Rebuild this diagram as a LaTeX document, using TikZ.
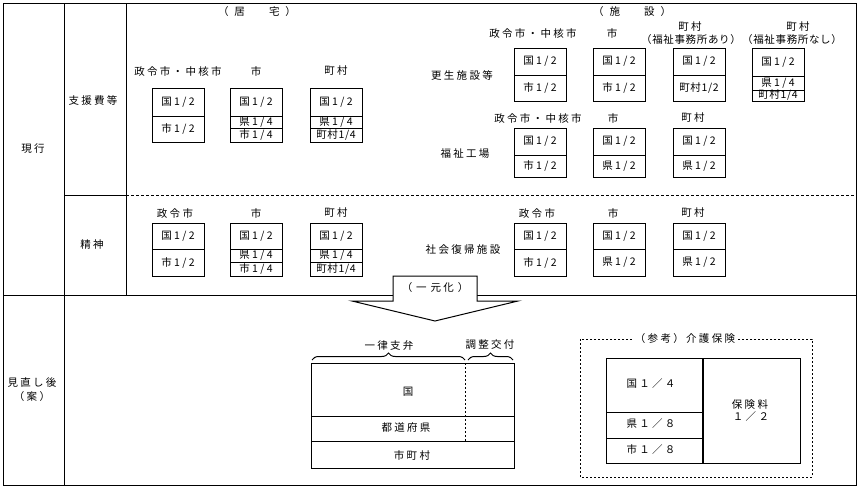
\documentclass[tikz,border=0pt]{standalone}
\usepackage{fontspec}
\usetikzlibrary{decorations.pathreplacing}
\newfontfamily\jp[LetterSpace=22]{Noto Sans CJK JP}
\newfontfamily\jpt[LetterSpace=6]{Noto Sans CJK JP}
\tikzset{
  ln/.style={line width=1pt},
  txt/.style={font=\jp\fontsize{10.5}{11}\selectfont, inner sep=0pt},
  tight/.style={font=\jpt\fontsize{10.5}{11}\selectfont, inner sep=0pt},
  dsh/.style={line width=1pt, dash pattern=on 3pt off 2pt},
  dot/.style={line width=1pt, dash pattern=on 2pt off 2pt},
  frame/.style={draw, line width=1pt, anchor=north west, inner sep=0pt, outer sep=0pt},
  brc/.style={line width=1pt, decorate, decoration={brace, amplitude=7pt}},
}
% two-row box: name, x, ytop, ydiv, ybot, text1, text2
\newcommand\boxtwo[7]{%
  \node[frame, minimum width=52pt, minimum height={#5-#3}] (#1) at (#2,#3) {};
  \draw[ln] (#2,#4) -- (#2+52,#4);
  \node[txt] (#1a) at (#2+26,{(#3+#4)/2}) {#6};
  \node[txt] (#1b) at (#2+26,{(#4+#5)/2}) {#7};
}
% three-row box: name, x, ytop, ydiv1, ydiv2, ybot, t1, t2, t3
\newcommand\boxthree[9]{%
  \node[frame, minimum width=52pt, minimum height={#6-#3}] (#1) at (#2,#3) {};
  \draw[ln] (#2,#4) -- (#2+52,#4);
  \draw[ln] (#2,#5) -- (#2+52,#5);
  \node[txt] (#1a) at (#2+26,{(#3+#4)/2}) {#7};
  \node[txt] (#1b) at (#2+26,{(#4+#5)/2}) {#8};
  \node[txt] (#1c) at (#2+26,{(#5+#6)/2}) {#9};
}
\begin{document}
\begin{tikzpicture}[x=1pt,y=-1pt]
\useasboundingbox (0,0) rectangle (859,488);
\fill[white] (0,0) rectangle (859,488);
% outer frame and grid
\draw[ln] (3,3) rectangle (856,485);
\draw[ln] (64,3) -- (64,485);
\draw[ln] (126,3) -- (126,295);
\draw[ln] (64,195) -- (126,195);
\draw[dsh] (126,195) -- (856,195);
\draw[ln] (3,295) -- (393,295);
\draw[ln] (477,295) -- (856,295);
% arrow
\draw[ln, fill=white] (393,295) -- (393,276) -- (477,276) -- (477,301) -- (518,301)
   -- (435,321) -- (352,301) -- (393,301) -- cycle;
\node[txt] (ichigen) at (435,288) {（\hspace{4pt}一\hspace{4pt}元\hspace{2pt}化\hspace{4pt}）};
% left labels
\node[txt] (genko) at (33,149) {現行};
\node[txt] (shien) at (93,100) {支援費等};
\node[txt] (seishin) at (92,245) {精神};
\node[txt] (minaoshi) at (32,383) {見直し後};
\node[txt] (an) at (32,397) {（案）};
% section titles
\node[txt] (kyotaku) at (257,12) {（\hspace{6pt}居\hspace{24pt}宅\hspace{6pt}）};
\node[txt] (shisetsu) at (632,12) {（\hspace{6pt}施\hspace{24pt}設\hspace{6pt}）};
% kyotaku headers
\node[txt] (h1) at (178,71) {政令市・中核市};
\node[txt] (h2) at (256,71) {市};
\node[txt] (h3) at (336,71) {町村};
\boxtwo{k1}{152}{88}{116}{142}{国1/2}{市1/2}
\boxthree{k2}{230}{88}{116}{128}{142}{国1/2}{県1/4}{市1/4}
\boxthree{k3}{310}{88}{116}{128}{142}{国1/2}{県1/4}{\jpt 町村1/4}
% kosei headers
\node[txt] (g1) at (533,33) {政令市・中核市};
\node[txt] (g2) at (612,33) {市};
\node[txt] (g3) at (690,27) {町村};
\node[tight] (g3b) at (691,40) {（福祉事務所あり）};
\node[txt] (g4) at (798,27) {町村};
\node[tight] (g4b) at (792,40) {（福祉事務所なし）};
\node[txt] (kosei) at (462,75) {更生施設等};
\boxtwo{s1}{514}{48}{75}{101}{国1/2}{市1/2}
\boxtwo{s2}{593}{48}{75}{101}{国1/2}{市1/2}
\node[frame, minimum width=52pt, minimum height=53pt] (s3) at (673,48) {};
\draw[ln] (673,75) -- (725,75);
\node[txt] (s3a) at (699,61.5) {国1/2};
\node[tight] (s3b) at (699,88) {町村1/2};
\boxthree{s4}{752}{48}{76}{90}{101}{国1/2}{県1/4}{\jpt 町村1/4}
% fukushi kojo
\node[txt] (f1) at (538,118) {政令市・中核市};
\node[txt] (f2) at (613,118) {市};
\node[txt] (f3) at (693,118) {町村};
\node[txt] (fukushi) at (465,154) {福祉工場};
\boxtwo{w1}{514}{128}{155}{177}{国1/2}{市1/2}
\boxtwo{w2}{593}{128}{155}{177}{国1/2}{県1/2}
\boxtwo{w3}{673}{128}{155}{177}{国1/2}{県1/2}
% seishin kyotaku
\node[txt] (p1) at (175,213) {政令市};
\node[txt] (p2) at (256,213) {市};
\node[txt] (p3) at (336,213) {町村};
\boxtwo{e1}{152}{223}{249}{276}{国1/2}{市1/2}
\boxthree{e2}{230}{223}{249}{262}{276}{国1/2}{県1/4}{市1/4}
\boxthree{e3}{310}{223}{249}{262}{276}{国1/2}{県1/4}{\jpt 町村1/4}
% shakai fukki
\node[txt] (q1) at (537,213) {政令市};
\node[txt] (q2) at (613,213) {市};
\node[txt] (q3) at (693,213) {町村};
\node[txt] (shakai) at (463,250) {社会復帰施設};
\boxtwo{r1}{514}{223}{249}{276}{国1/2}{市1/2}
\boxtwo{r2}{593}{223}{249}{276}{国1/2}{県1/2}
\boxtwo{r3}{673}{223}{249}{276}{国1/2}{県1/2}
% new scheme table
\node[txt] (ichiritsu) at (389,345) {一律支弁};
\node[txt] (chosei) at (490,345) {調整交付};
\coordinate (b1l) at (312,360);
\coordinate (b1r) at (465,360);
\coordinate (b2l) at (468,360);
\coordinate (b2r) at (513,360);
\draw[brc] (b1l) -- (b1r);
\draw[brc] (b2l) -- (b2r);
\node[frame, minimum width=203pt, minimum height=105pt] (bigtab) at (311,363) {};
\draw[ln] (311,416) -- (514,416);
\draw[ln] (311,441) -- (514,441);
\draw[dot] (465,363) -- (465,441);
\node[txt] (kuni) at (408,392) {国};
\node[txt] (todofuken) at (406,428) {都道府県};
\node[txt] (shichoson) at (412,455) {市町村};
% kaigo hoken reference
\draw[dot] (580,339) rectangle (812,477);
\node[txt, fill=white, inner xsep=3pt] (sanko) at (685,339) {（参考）介護保険};
\node[frame, minimum width=194pt, minimum height=105pt] (kaigo) at (606,358) {};
\draw[line width=2pt] (703,358) -- (703,463);
\draw[ln] (606,412) -- (703,412);
\draw[ln] (606,438) -- (703,438);
\node[txt] (ka) at (651,384) {国１／４};
\node[txt] (kb) at (651,424) {県１／８};
\node[txt] (kc) at (651,450) {市１／８};
\node[txt] (kd) at (750,405) {保険料};
\node[txt] (ke) at (751,417) {１／２};
\end{tikzpicture}
\end{document}
